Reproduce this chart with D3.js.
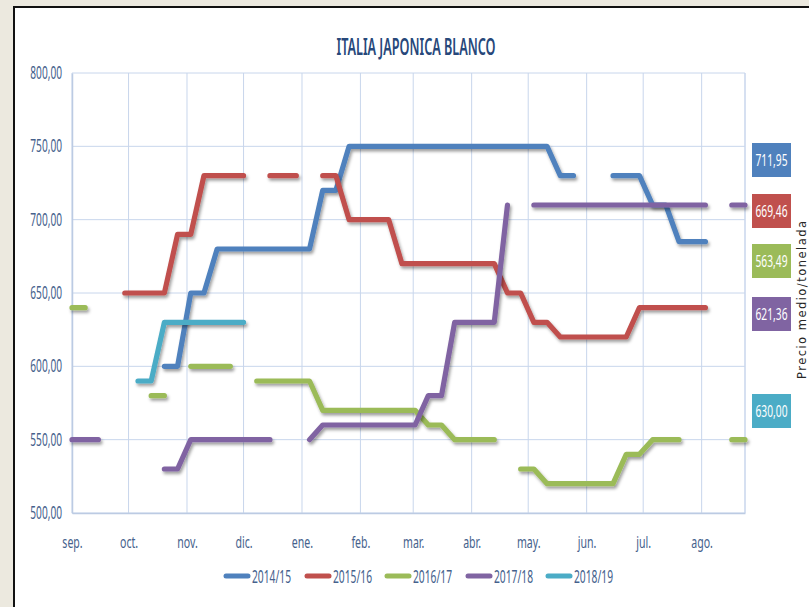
<!DOCTYPE html>
<html>
<head>
<meta charset="utf-8">
<script src="https://cdn.jsdelivr.net/npm/d3@7"></script>
<style>
  html, body { margin: 0; padding: 0; background: #ece9df; }
  #chart_container { width: 809px; height: 607px; }
</style>
</head>
<body>
<div id="chart_container"></div>
<script>
// weekly price dates (sep 2017 .. aug 2018 used as a generic season)
var WEEKS = ["09-01","09-08","09-15","09-22","09-29","10-06","10-13","10-20","10-27","11-03",
             "11-10","11-17","11-24","12-01","12-08","12-15","12-22","12-29","01-05","01-12",
             "01-19","01-26","02-02","02-09","02-16","02-23","03-02","03-09","03-16","03-23",
             "03-30","04-06","04-13","04-20","04-27","05-04","05-11","05-18","05-25","06-01",
             "06-08","06-15","06-22","06-29","07-06","07-13","07-20","07-27","08-03","08-10",
             "08-17","08-24"];

var S_2014_15 = [null,null,null,null,null,null,null,600,600,650,
                 650,680,680,680,680,680,680,680,680,720,
                 720,750,750,750,750,750,750,750,750,750,
                 750,750,750,750,750,750,750,730,730,null,
                 null,730,730,730,710,710,685,685,685,null,
                 null,null];
var S_2015_16 = [null,null,null,null,650,650,650,650,690,690,
                 730,730,730,730,null,730,730,730,null,730,
                 730,700,700,700,700,670,670,670,670,670,
                 670,670,670,650,650,630,630,620,620,620,
                 620,620,620,640,640,640,640,640,640,null,
                 null,null];
var S_2016_17 = [640,640,null,null,null,null,580,580,null,600,
                 600,600,600,null,590,590,590,590,590,570,
                 570,570,570,570,570,570,570,560,560,550,
                 550,550,550,null,530,530,520,520,520,520,
                 520,520,540,540,550,550,550,null,null,null,
                 550,550];
var S_2017_18 = [550,550,550,null,null,null,null,530,530,550,
                 550,550,550,550,550,550,null,null,550,560,
                 560,560,560,560,560,560,560,580,580,630,
                 630,630,630,710,null,710,710,710,710,710,
                 710,710,710,710,710,710,710,710,710,null,
                 710,710];
var S_2018_19 = [null,null,null,null,null,590,590,630,630,630,
                 630,630,630,630,null,null,null,null,null,null,
                 null,null,null,null,null,null,null,null,null,null,
                 null,null,null,null,null,null,null,null,null,null,
                 null,null,null,null,null,null,null,null,null,null,
                 null,null];

var SERIES_NAMES  = ["2014/15","2015/16","2016/17","2017/18","2018/19"];
var SERIES_COLORS = ["#4f81bd","#c0504d","#9bbb59","#8064a2","#4bacc6"];
var SERIES_VALUES = [S_2014_15, S_2015_16, S_2016_17, S_2017_18, S_2018_19];

// boxes on the right side
var BOX_LABELS = ["711,95","669,46","563,49","621,36","630,00"];
var BOX_TOPS   = [143, 194, 244, 297, 394];

var Y_TICKS = [500, 550, 600, 650, 700, 750, 800];
var MONTH_LABELS = ["sep.","oct.","nov.","dic.","ene.","feb.","mar.","abr.","may.","jun.","jul.","ago."];

var TICK_COLOR = "#45618c";
var GRID_COLOR = "#c8d6ec";
var FONT = "'Noto Sans', 'Open Sans', sans-serif";

function parseWeek(s){
    let m = +s.slice(0,2), d = +s.slice(3,5);
    let year = m >= 9 ? 2017 : 2018;
    return new Date(year, m-1, d);
}

function fmtNum(v){
    return d3.format(".2f")(v).replace(".", ",");
}

drawChart();

function drawChart(){
    let W = 809, H = 607;
    let margin = {top: 73, right: 64, bottom: 94, left: 72};
    let plotW = 745 - margin.left, plotH = 513 - margin.top;

    let svg = d3.select("#chart_container").append("svg")
        .attr("width", W).attr("height", H);

    // frame
    svg.append("rect").attr("x",0).attr("y",0).attr("width",W).attr("height",H).attr("fill","#ece9df");
    svg.append("rect").attr("x",14).attr("y",7).attr("width",W).attr("height",H).attr("fill","#ffffff")
        .attr("stroke","#111").attr("stroke-width",2);

    let defs = svg.append("defs");
    let f = defs.append("filter").attr("id","shadow")
        .attr("x","-10%").attr("y","-10%").attr("width","120%").attr("height","140%");
    f.append("feDropShadow").attr("dx",1.5).attr("dy",2.5).attr("stdDeviation",1.4)
        .attr("flood-color","#000").attr("flood-opacity",0.38);

    // title
    svg.append("text")
        .attr("x", 416).attr("y", 55)
        .attr("text-anchor","middle")
        .attr("font-family", FONT).attr("font-size", 23).attr("font-weight", 600)
        .attr("fill","#27487a")
        .attr("textLength", 159).attr("lengthAdjust","spacingAndGlyphs")
        .text("ITALIA JAPONICA BLANCO");

    let g = svg.append("g").attr("transform","translate(" + margin.left + "," + margin.top + ")");

    let dates = WEEKS.map(parseWeek);
    let x = d3.scaleTime().domain([dates[0], dates[dates.length-1]]).range([0, plotW]);
    let y = d3.scaleLinear().domain([500, 800]).range([plotH, 0]);

    // grid
    let months = d3.timeMonth.range(dates[0], dates[dates.length-1]);
    g.selectAll(".vgrid").data(months).enter().append("line")
        .attr("x1", d => x(d)).attr("x2", d => x(d))
        .attr("y1", 0).attr("y2", plotH)
        .attr("stroke", GRID_COLOR).attr("stroke-width", 1);
    g.selectAll(".hgrid").data(Y_TICKS).enter().append("line")
        .attr("x1", 0).attr("x2", plotW)
        .attr("y1", d => y(d)).attr("y2", d => y(d))
        .attr("stroke", GRID_COLOR).attr("stroke-width", 1);
    g.append("line").attr("x1", plotW).attr("x2", plotW).attr("y1", 0).attr("y2", plotH)
        .attr("stroke", GRID_COLOR).attr("stroke-width", 1.5);

    // axes
    let yAxis = g.append("g").call(d3.axisLeft(y).tickValues(Y_TICKS).tickSize(0).tickPadding(10).tickFormat(fmtNum));
    let xAxis = g.append("g").attr("transform","translate(0," + plotH + ")")
        .call(d3.axisBottom(x).tickValues(months).tickSize(0).tickPadding(23)
            .tickFormat((d,i) => MONTH_LABELS[i]));
    [yAxis, xAxis].forEach(function(ax){
        ax.select(".domain").attr("stroke", "#bccbe3").attr("stroke-width", 1.5);
        ax.selectAll("text").attr("font-family", FONT).attr("fill", TICK_COLOR);
    });
    // narrow the tick labels like the original condensed font
    yAxis.selectAll("text").attr("font-size", 17.5);
    yAxis.selectAll(".tick").each(function(){
        let t = d3.select(this).select("text");
        let tx = +t.attr("x");
        t.attr("x", tx/0.58).attr("transform","scale(0.58,1)");
    });
    xAxis.selectAll("text").attr("font-size", 16.5).attr("transform","scale(0.64,1)");

    // series lines
    let line = d3.line()
        .defined(d => d.v != null)
        .x(d => x(d.date)).y(d => y(d.v));

    SERIES_VALUES.forEach(function(vals, i){
        let pts = vals.map((v, k) => ({date: dates[k], v: v}));
        g.append("path")
            .datum(pts)
            .attr("d", line)
            .attr("fill","none")
            .attr("stroke", SERIES_COLORS[i])
            .attr("stroke-width", 5.2)
            .attr("stroke-linejoin","round")
            .attr("stroke-linecap","round")
            .attr("filter","url(#shadow)");
    });

    // right boxes
    BOX_LABELS.forEach(function(lbl, i){
        svg.append("rect").attr("x", 752).attr("y", BOX_TOPS[i])
            .attr("width", 39).attr("height", 34).attr("fill", SERIES_COLORS[i]);
        svg.append("text").attr("x", 771.5).attr("y", BOX_TOPS[i] + 23)
            .attr("text-anchor","middle")
            .attr("font-family", FONT).attr("font-size", 17).attr("fill","#ffffff")
            .attr("textLength", 32).attr("lengthAdjust","spacingAndGlyphs")
            .text(lbl);
    });

    // vertical axis title
    svg.append("text")
        .attr("transform","translate(806,300) rotate(-90)")
        .attr("text-anchor","middle")
        .attr("font-family","'DejaVu Sans', sans-serif").attr("font-size", 11.5)
        .attr("fill","#262626")
        .attr("textLength", 158).attr("lengthAdjust","spacing")
        .text("Precio medio/tonelada");

    // legend
    let legX = [224, 305, 385, 466, 546];
    SERIES_NAMES.forEach(function(name, i){
        let lg = svg.append("g").attr("transform","translate(" + legX[i] + ",576)");
        lg.append("line").attr("x1", 2).attr("x2", 24).attr("y1", 0).attr("y2", 0)
            .attr("stroke", SERIES_COLORS[i]).attr("stroke-width", 5).attr("stroke-linecap","round");
        lg.append("text").attr("x", 28).attr("y", 6.5)
            .attr("font-family", FONT).attr("font-size", 17.5).attr("fill", TICK_COLOR)
            .attr("textLength", 39).attr("lengthAdjust","spacingAndGlyphs")
            .text(name);
    });
}
</script>
</body>
</html>
